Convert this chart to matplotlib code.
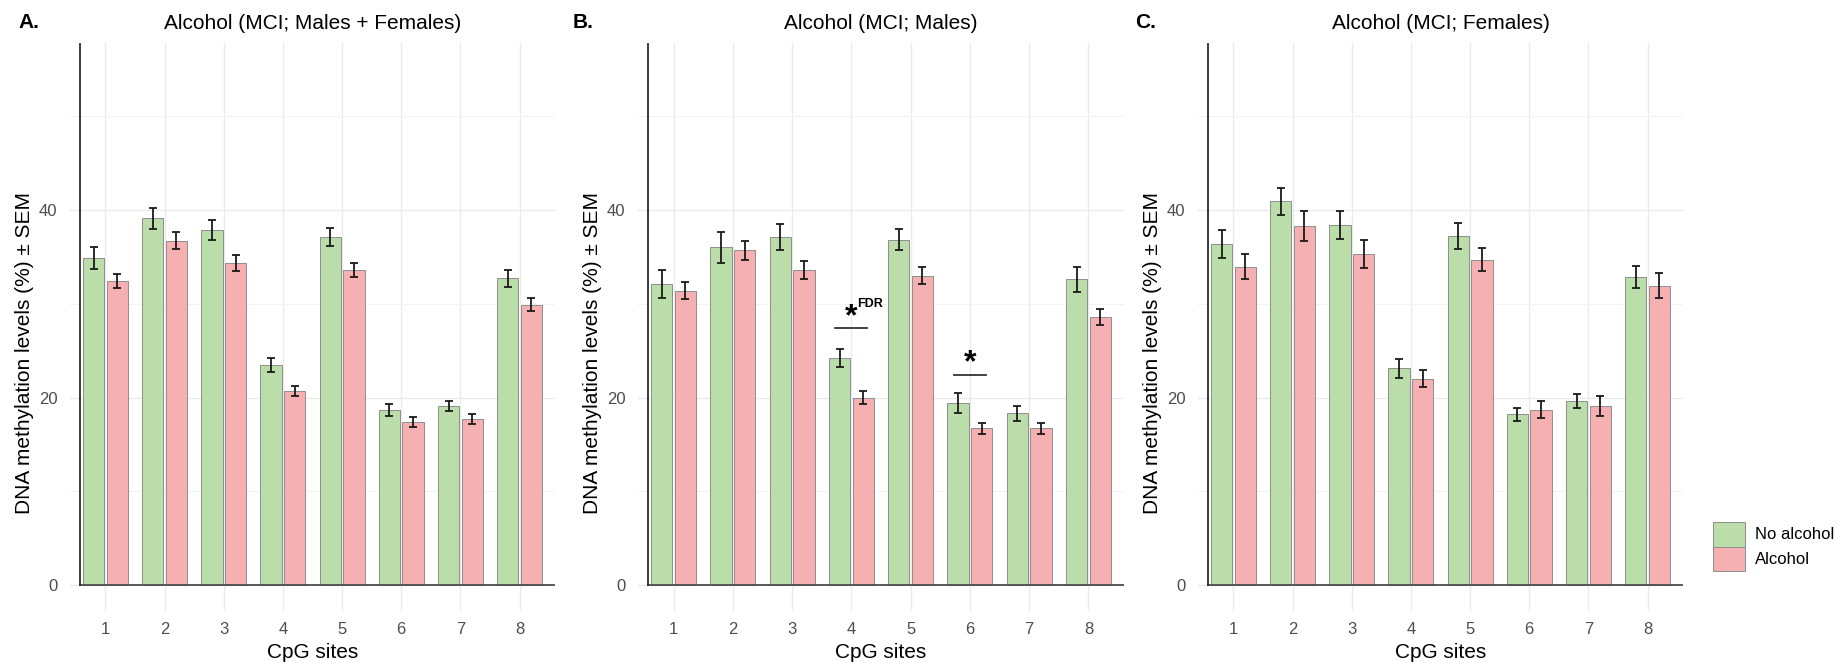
import matplotlib
matplotlib.use("Agg")
import matplotlib.pyplot as plt
import numpy as np
from matplotlib.patches import Patch

plt.rcParams['font.family'] = ['Liberation Sans', 'DejaVu Sans']

sites = ["1", "2", "3", "4", "5", "6", "7", "8"]
groups = ["No alcohol", "Alcohol"]
colors = ["#BBDDA9", "#F7B0B1"]

titles = ["Alcohol (MCI; Males + Females)", "Alcohol (MCI; Males)", "Alcohol (MCI; Females)"]
panel_tags = ["A.", "B.", "C."]

# Panel A: Males + Females
A_no = [34.9, 39.1, 37.9, 23.5, 37.1, 18.7, 19.1, 32.7]
A_no_sem = [1.17, 1.13, 1.06, 0.75, 0.95, 0.63, 0.56, 0.90]
A_alc = [32.4, 36.7, 34.3, 20.7, 33.6, 17.4, 17.7, 29.9]
A_alc_sem = [0.77, 0.90, 0.86, 0.52, 0.74, 0.52, 0.54, 0.72]

# Panel B: Males
B_no = [32.1, 36.0, 37.1, 24.2, 36.8, 19.4, 18.3, 32.6]
B_no_sem = [1.53, 1.65, 1.40, 1.00, 1.13, 1.06, 0.75, 1.35]
B_alc = [31.4, 35.7, 33.6, 20.0, 33.0, 16.7, 16.7, 28.6]
B_alc_sem = [0.86, 1.00, 0.97, 0.65, 0.95, 0.61, 0.61, 0.88]

# Panel C: Females
C_no = [36.4, 40.9, 38.4, 23.1, 37.2, 18.2, 19.6, 32.8]
C_no_sem = [1.50, 1.44, 1.47, 0.97, 1.35, 0.72, 0.75, 1.17]
C_alc = [33.95, 38.3, 35.3, 22.0, 34.7, 18.7, 19.1, 31.9]
C_alc_sem = [1.35, 1.58, 1.51, 0.93, 1.24, 0.88, 1.04, 1.33]

# Significance marks in panel B
B_sig_sites = [4, 6]
B_sig_line_y = [27.4, 22.4]
B_sig_star_y = [28.6, 23.7]
B_sig_sup = ["FDR", ""]

panels = [
    (A_no, A_no_sem, A_alc, A_alc_sem),
    (B_no, B_no_sem, B_alc, B_alc_sem),
    (C_no, C_no_sem, C_alc, C_alc_sem),
]

W, H = 1847, 664
fig = plt.figure(figsize=(W / 100, H / 100), dpi=100)

lefts = [70, 638, 1198]
widths = [485, 486, 485]
top_px, bot_px = 43.3, 611
tag_x = [18, 573, 1135]

x = np.arange(1, len(sites) + 1)
bw = 0.36
off = 0.2
ymin, ymax = -2.75, 57.75
xmin, xmax = 0.4, 8.6
yaxis_x = 0.562

for i, (no, no_s, alc, alc_s) in enumerate(panels):
    ax_h = bot_px - top_px
    ax = fig.add_axes([lefts[i] / W, 1 - bot_px / H, widths[i] / W, ax_h / H])
    ax.set_xlim(xmin, xmax)
    ax.set_ylim(ymin, ymax)
    for s in ax.spines.values():
        s.set_visible(False)
    ax.set_axisbelow(True)
    ax.set_yticks([0, 20, 40])
    ax.set_yticks([10, 30, 50], minor=True)
    ax.set_xticks(x)
    ax.set_xticklabels(sites)
    ax.grid(True, which='major', color='#EBEBEB', lw=1.0)
    ax.grid(True, which='minor', axis='y', color='#F2F2F2', lw=0.7)
    ax.tick_params(axis='both', which='both', length=0, labelsize=12, labelcolor='#4D4D4D')
    ax.tick_params(axis='y', pad=9)
    ax.tick_params(axis='x', pad=8)

    ax.bar(x - off, no, width=bw, color=colors[0], edgecolor='#8E8E8E', lw=0.7, zorder=2)
    ax.bar(x + off, alc, width=bw, color=colors[1], edgecolor='#8E8E8E', lw=0.7, zorder=2)
    ax.errorbar(x - off, no, yerr=no_s, fmt='none', ecolor='#1A1A1A', elinewidth=1.3,
                capsize=2.6, capthick=1.3, zorder=3)
    ax.errorbar(x + off, alc, yerr=alc_s, fmt='none', ecolor='#1A1A1A', elinewidth=1.3,
                capsize=2.6, capthick=1.3, zorder=3)

    ax.axhline(0, xmin=(yaxis_x - xmin) / (xmax - xmin), xmax=1, color='#4D4D4D', lw=1.3, zorder=4)
    ax.axvline(yaxis_x, ymin=(0 - ymin) / (ymax - ymin), ymax=1, color='#1A1A1A', lw=1.2, zorder=4)

    ax.set_xlabel("CpG sites", fontsize=15, labelpad=4)
    ax.set_ylabel("DNA methylation levels (%) ± SEM", fontsize=15)
    ax.yaxis.set_label_coords(-45 / widths[i], (bot_px - 352.5) / ax_h)
    ax.yaxis.label.set_verticalalignment('center')
    ax.set_title(titles[i], fontsize=15, pad=10)

    fig.text(tag_x[i] / W, 1 - 23 / H, panel_tags[i], fontsize=15, fontweight='bold',
             ha='left', va='center')

    if i == 1:
        for s_idx, ly, sy, sup in zip(B_sig_sites, B_sig_line_y, B_sig_star_y, B_sig_sup):
            ax.plot([s_idx - 0.27, s_idx + 0.27], [ly, ly], color='#333333', lw=1.3, zorder=4)
            ax.text(s_idx, sy, "*", fontsize=23, fontweight='bold', ha='center', va='center')
            if sup:
                ax.text(s_idx + 0.1, sy + 1.4, sup, fontsize=9, fontweight='bold',
                        ha='left', va='center')

handles = [Patch(facecolor=colors[0], edgecolor='#8E8E8E', lw=0.7),
           Patch(facecolor=colors[1], edgecolor='#8E8E8E', lw=0.7)]
fig.legend(handles, groups, loc='upper left', bbox_to_anchor=(1713 / W, 1 - 521.7 / H),
           frameon=False, fontsize=12, handlelength=1.92, handleheight=1.92,
           labelspacing=0.0, handletextpad=0.6, borderpad=0, borderaxespad=0)

fig.savefig("out.png", dpi=100)
